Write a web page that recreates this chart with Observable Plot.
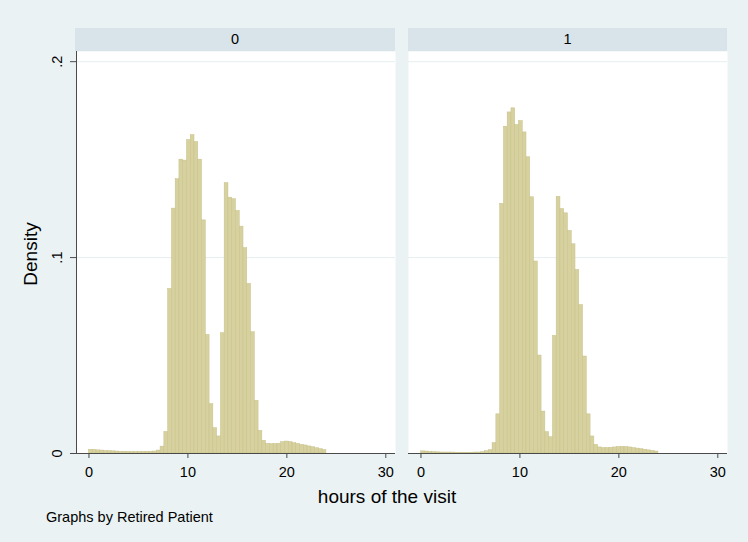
<!DOCTYPE html>
<html>
<head>
<meta charset="utf-8">
<script src="https://cdn.jsdelivr.net/npm/d3@7"></script>
<script src="https://cdn.jsdelivr.net/npm/@observablehq/plot@0.6"></script>
<style>
  body { margin: 0; background: #EAF2F3; }
  #root { position: relative; width: 748px; height: 542px; background: #EAF2F3; overflow: hidden;
          font-family: "Liberation Sans", Arial, sans-serif; color: #000; }
  .strip { position: absolute; top: 28px; height: 23px; background: #D8E4E9;
           font-size: 14.5px; line-height: 23px; text-align: center; }
  .abs { position: absolute; white-space: nowrap; }
</style>
</head>
<body>
<div id="root"></div>
<script>
// ---- Data ----
const panels = ["0", "1"];              // Retired Patient
const binStart = 0;                       // first bin edge (hours)
const binCount = 63;                      // Stata default number of bins
const binEnd = 24;                        // last bin edge (hours)
const xTicks = [0, 10, 20, 30];
const yTicks = [0, 0.1, 0.2];
const yTickLabels = ["0", ".1", ".2"];

// density per bin, Retired Patient = 0
const density0 = [
  0.0019, 0.0018, 0.0016, 0.0015, 0.0013, 0.0012, 0.0011, 0.0010, 0.0009, 0.0009,
  0.0008, 0.0008, 0.0008, 0.0008, 0.0008, 0.0008, 0.0009, 0.0010, 0.0015, 0.0035,
  0.0110, 0.0840, 0.1250, 0.1400, 0.1500, 0.1495, 0.1600, 0.1625, 0.1590, 0.1500,
  0.1190, 0.0605, 0.0252, 0.0129, 0.0087, 0.0614, 0.1380, 0.1306, 0.1298, 0.1238,
  0.1158, 0.1048, 0.0866, 0.0619, 0.0269, 0.0115, 0.0065, 0.0049, 0.0048, 0.0048,
  0.0050, 0.0058, 0.0061, 0.0058, 0.0053, 0.0049, 0.0044, 0.0041, 0.0036, 0.0032,
  0.0027, 0.0022, 0.0017
];
// density per bin, Retired Patient = 1
const density1 = [
  0.0011, 0.0010, 0.0008, 0.0007, 0.0006, 0.0005, 0.0005, 0.0005, 0.0005, 0.0004,
  0.0004, 0.0004, 0.0004, 0.0004, 0.0005, 0.0005, 0.0007, 0.0012, 0.0017, 0.0053,
  0.0200, 0.1274, 0.1668, 0.1741, 0.1762, 0.1677, 0.1697, 0.1639, 0.1512, 0.1308,
  0.0980, 0.0500, 0.0214, 0.0109, 0.0083, 0.0600, 0.1310, 0.1248, 0.1226, 0.1136,
  0.1068, 0.0937, 0.0758, 0.0495, 0.0200, 0.0087, 0.0044, 0.0031, 0.0028, 0.0028,
  0.0029, 0.0031, 0.0033, 0.0034, 0.0033, 0.0031, 0.0028, 0.0025, 0.0022, 0.0019,
  0.0016, 0.0013, 0.0010
];

// ---- Build bin table ----
const binWidth = (binEnd - binStart) / binCount;
function bins(dens) {
  return dens.map((d, i) => ({ x1: binStart + i * binWidth, x2: binStart + (i + 1) * binWidth, density: d }));
}

const root = document.getElementById("root");
const xDomain = [-1.26, 30.98];
const yDomain = [0, 0.2052];
const font = "'Liberation Sans', Arial, sans-serif";
const axisColor = "#4a4a4a";

function panel(dens, withY) {
  const marks = [
    Plot.frame({ fill: "white", stroke: null }),
    Plot.ruleY([0.1, 0.2], { stroke: "#E6EEF0", strokeWidth: 1 }),
    Plot.rectY(bins(dens), { x1: "x1", x2: "x2", y: "density", fill: "#D6D19E", stroke: "#C8C18A", strokeWidth: 0.5 }),
    Plot.ruleY([0], { stroke: axisColor, strokeWidth: 1 }),
    Plot.axisX({ ticks: xTicks, tickSize: 5, tickPadding: 8.5, label: null, stroke: axisColor, fill: "#000", fontSize: 14.5 })
  ];
  if (withY) {
    marks.push(
      Plot.ruleX([xDomain[0]], { stroke: axisColor, strokeWidth: 1 }),
      Plot.axisY({ ticks: yTicks, tickSize: 6, tickFormat: () => "", label: null, stroke: axisColor }),
      Plot.text(yTicks, { y: d => d, text: (d, i) => yTickLabels[i], frameAnchor: "left", dx: -19,
                          rotate: -90, textAnchor: "middle", lineAnchor: "middle", fontSize: 14.5, fill: "#000" })
    );
  }
  return Plot.plot({
    width: withY ? 395 : 319,
    height: 442,
    marginLeft: withY ? 76 : 0,
    marginRight: 0,
    marginTop: 0,
    marginBottom: 40,
    x: { domain: xDomain },
    y: withY ? { domain: yDomain } : { domain: yDomain, axis: null },
    style: { background: "transparent", fontFamily: font, fontSize: "14.5px", overflow: "visible" },
    marks
  });
}

// strips
[[75, 320, panels[0]], [408, 319, panels[1]]].forEach(([l, w, t]) => {
  const s = document.createElement("div");
  s.className = "strip";
  s.style.left = l + "px";
  s.style.width = w + "px";
  s.textContent = t;
  root.appendChild(s);
});

const p0 = panel(density0, true);
p0.style.position = "absolute"; p0.style.left = "0px"; p0.style.top = "51px";
root.appendChild(p0);
const p1 = panel(density1, false);
p1.style.position = "absolute"; p1.style.left = "408px"; p1.style.top = "51px";
root.appendChild(p1);

// titles
const yt = document.createElement("div");
yt.className = "abs";
yt.textContent = "Density";
yt.style.cssText += "font-size:19px; left:31px; top:254px; transform: translate(-50%,-50%) rotate(-90deg);";
root.appendChild(yt);

const xt = document.createElement("div");
xt.className = "abs";
xt.textContent = "hours of the visit";
xt.style.cssText += "font-size:19px; left:387px; top:486px; transform: translateX(-50%);";
root.appendChild(xt);

const note = document.createElement("div");
note.className = "abs";
note.textContent = "Graphs by Retired Patient";
note.style.cssText += "font-size:14.5px; left:46px; top:509px;";
root.appendChild(note);
</script>
</body>
</html>
